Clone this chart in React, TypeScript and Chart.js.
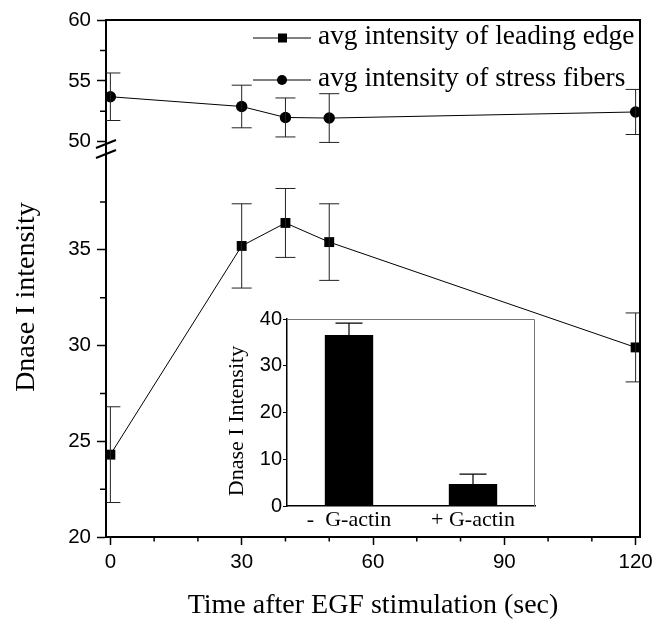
import React, { useEffect, useRef } from 'react';
import { Chart, registerables } from 'chart.js';

Chart.register(...registerables);

// ---------- data ----------
const timePoints = [0, 30, 40, 50, 120];
const leadingEdge = [24.3, 35.2, 36.4, 35.4, 29.9];
const leadingEdgeErr = [2.5, 2.2, 1.8, 2.0, 1.8];
const stressFibers = [53.7, 52.9, 52.0, 51.95, 52.45];
const stressFibersErr = [1.95, 1.75, 1.6, 2.0, 1.85];
const seriesLabels = ['avg intensity of leading edge', 'avg intensity of stress fibers'];

const xMajorTicks = [0, 30, 60, 90, 120];
const xMinorTicks = [10, 20, 40, 50, 70, 80, 100, 110];
const yLowMajorTicks = [20, 25, 30, 35];
const yLowMinorTicks = [22.5, 27.5, 32.5, 37.5];
const yHighMajorTicks = [50, 55, 60];
const yHighMinorTicks = [52.5, 57.5];

const insetCategories = ['-  G-actin', '+ G-actin'];
const insetValues = [36.6, 4.7];
const insetErr = [2.5, 2.1];
const insetTicks = [0, 10, 20, 30, 40];

const xTitle = 'Time after EGF stimulation (sec)';
const yTitle = 'Dnase I intensity';
const insetYTitle = 'Dnase I Intensity';

const SERIF = '"Liberation Serif", "Times New Roman", serif';
const SANS = '"Liberation Sans", Arial, sans-serif';

const setTicks = (vals: number[]) => (s: any) => {
  s.ticks = vals.map((v) => ({ value: v }));
};

const mainPlugin = {
  id: 'mainDecor',
  afterDatasetsDraw(chart: any) {
    const ctx = chart.ctx;
    const area = chart.chartArea;
    ctx.save();
    ctx.beginPath();
    ctx.rect(area.left, area.top, area.right - area.left, area.bottom - area.top);
    ctx.clip();
    ctx.strokeStyle = '#222';
    ctx.lineWidth = 1;
    chart.data.datasets.forEach((ds: any, i: number) => {
      const meta = chart.getDatasetMeta(i);
      const ys = chart.scales[ds.yAxisID];
      ds.data.forEach((p: any, j: number) => {
        const e = ds.errors[j];
        const px = meta.data[j].x;
        const t = ys.getPixelForValue(p.y + e);
        const b = ys.getPixelForValue(p.y - e);
        ctx.beginPath();
        ctx.moveTo(px, t);
        ctx.lineTo(px, b);
        ctx.moveTo(px - 10, t);
        ctx.lineTo(px + 10, t);
        ctx.moveTo(px - 10, b);
        ctx.lineTo(px + 10, b);
        ctx.stroke();
      });
    });
    ctx.restore();
  },
  afterDraw(chart: any) {
    const ctx = chart.ctx;
    const area = chart.chartArea;
    const xs = chart.scales.x;
    const yl = chart.scales.yLow;
    const yh = chart.scales.yHigh;
    ctx.save();
    // frame top/right
    ctx.strokeStyle = '#000';
    ctx.lineWidth = 2;
    ctx.beginPath();
    ctx.moveTo(area.left, area.top);
    ctx.lineTo(area.right, area.top);
    ctx.lineTo(area.right, area.bottom);
    ctx.stroke();
    // minor ticks
    ctx.lineWidth = 1.5;
    ctx.beginPath();
    xMinorTicks.forEach((v) => {
      const px = xs.getPixelForValue(v);
      ctx.moveTo(px, area.bottom);
      ctx.lineTo(px, area.bottom + 4.5);
    });
    yLowMinorTicks.forEach((v) => {
      const py = yl.getPixelForValue(v);
      ctx.moveTo(area.left, py);
      ctx.lineTo(area.left - 6, py);
    });
    yHighMinorTicks.forEach((v) => {
      const py = yh.getPixelForValue(v);
      ctx.moveTo(area.left, py);
      ctx.lineTo(area.left - 6, py);
    });
    ctx.stroke();
    // axis break marks
    const by = yh.bottom;
    ctx.lineWidth = 2.2;
    ctx.beginPath();
    ctx.moveTo(area.left - 10, by - 6);
    ctx.lineTo(area.left + 10, by - 14);
    ctx.moveTo(area.left - 10, by + 4);
    ctx.lineTo(area.left + 10, by - 4);
    ctx.stroke();
    // legend
    ctx.fillStyle = '#000';
    ctx.font = '27.4px ' + SERIF;
    ctx.textBaseline = 'alphabetic';
    ctx.textAlign = 'left';
    const rows = [38, 80];
    chart.data.datasets.forEach((ds: any, i: number) => {
      const ly = rows[i];
      ctx.lineWidth = 1;
      ctx.beginPath();
      ctx.moveTo(253, ly);
      ctx.lineTo(311, ly);
      ctx.stroke();
      ctx.beginPath();
      if (ds.pointStyle === 'rect') {
        ctx.rect(278, ly - 4.5, 9, 9);
      } else {
        ctx.arc(282, ly, 5, 0, Math.PI * 2);
      }
      ctx.fill();
      ctx.fillText(ds.label, 318, ly + 6);
    });
    // axis titles
    ctx.font = '28px ' + SERIF;
    ctx.textAlign = 'center';
    ctx.textBaseline = 'middle';
    ctx.fillText(xTitle, (area.left + area.right) / 2, 606);
    ctx.translate(27, 297);
    ctx.rotate(-Math.PI / 2);
    ctx.fillText(yTitle, 0, 0);
    ctx.restore();
  },
};

const insetPlugin = {
  id: 'insetDecor',
  beforeDraw(chart: any) {
    const ctx = chart.ctx;
    const a = chart.chartArea;
    ctx.save();
    ctx.fillStyle = '#fff';
    ctx.fillRect(a.left, a.top, a.right - a.left, a.bottom - a.top);
    ctx.restore();
  },
  afterDatasetsDraw(chart: any) {
    const ctx = chart.ctx;
    const ys = chart.scales.y;
    const ds = chart.data.datasets[0];
    const meta = chart.getDatasetMeta(0);
    ctx.save();
    ctx.strokeStyle = '#000';
    ctx.lineWidth = 1.2;
    ds.data.forEach((v: number, j: number) => {
      const px = meta.data[j].x;
      const t = ys.getPixelForValue(v + ds.errors[j]);
      const b = ys.getPixelForValue(v);
      ctx.beginPath();
      ctx.moveTo(px, b);
      ctx.lineTo(px, t);
      ctx.moveTo(px - 13.5, t);
      ctx.lineTo(px + 13.5, t);
      ctx.stroke();
    });
    ctx.restore();
  },
  afterDraw(chart: any) {
    const ctx = chart.ctx;
    const a = chart.chartArea;
    ctx.save();
    ctx.strokeStyle = '#777';
    ctx.lineWidth = 1;
    ctx.beginPath();
    ctx.moveTo(a.left, a.top + 0.5);
    ctx.lineTo(a.right - 0.5, a.top + 0.5);
    ctx.lineTo(a.right - 0.5, a.bottom);
    ctx.stroke();
    ctx.fillStyle = '#000';
    ctx.font = '22px ' + SERIF;
    ctx.textAlign = 'center';
    ctx.textBaseline = 'middle';
    ctx.translate(22, 116);
    ctx.rotate(-Math.PI / 2);
    ctx.fillText(insetYTitle, 0, 0);
    ctx.restore();
  },
};

export default function App() {
  const mainRef = useRef<HTMLCanvasElement>(null);
  const insetRef = useRef<HTMLCanvasElement>(null);

  useEffect(() => {
    const tickFont = { family: SANS, size: 20.5 };
    const yCommon = {
      type: 'linear' as const,
      position: 'left' as const,
      stack: 'y',
      afterFit: (s: any) => {
        s.width = 106;
      },
      ticks: { font: tickFont, color: '#000', padding: 6 },
      grid: { drawOnChartArea: false, tickLength: 9, tickColor: '#000', tickWidth: 1.5 },
      border: { color: '#000', width: 2 },
    };
    const main = new Chart(mainRef.current!, {
      type: 'line',
      data: {
        datasets: [
          {
            label: seriesLabels[0],
            data: timePoints.map((t, i) => ({ x: t, y: leadingEdge[i] })),
            yAxisID: 'yLow',
            borderColor: '#000',
            borderWidth: 1,
            pointStyle: 'rect',
            pointRadius: 7,
            pointBackgroundColor: '#000',
            pointBorderWidth: 0,
            clip: 0,
            errors: leadingEdgeErr,
          } as any,
          {
            label: seriesLabels[1],
            data: timePoints.map((t, i) => ({ x: t, y: stressFibers[i] })),
            yAxisID: 'yHigh',
            borderColor: '#000',
            borderWidth: 1,
            pointStyle: 'circle',
            pointRadius: 5.7,
            pointBackgroundColor: '#000',
            pointBorderWidth: 0,
            clip: 0,
            errors: stressFibersErr,
          } as any,
        ],
      },
      options: {
        animation: false,
        responsive: false,
        layout: { padding: { top: 20, right: 25, left: 0, bottom: 0 } },
        plugins: { legend: { display: false }, tooltip: { enabled: false } },
        scales: {
          x: {
            type: 'linear',
            min: -1,
            max: 121,
            afterBuildTicks: setTicks(xMajorTicks),
            afterFit: (s: any) => {
              s.height = 85;
            },
            ticks: { font: tickFont, color: '#000', padding: 5, maxRotation: 0, autoSkip: false },
            grid: { drawOnChartArea: false, tickLength: 8, tickColor: '#000', tickWidth: 1.5 },
            border: { color: '#000', width: 2 },
          },
          yHigh: {
            ...yCommon,
            min: 49,
            max: 60,
            weight: 1,
            stackWeight: 134,
            afterBuildTicks: setTicks(yHighMajorTicks),
          },
          yLow: {
            ...yCommon,
            min: 20,
            max: 40,
            weight: 0,
            stackWeight: 383,
            afterBuildTicks: setTicks(yLowMajorTicks),
          },
        } as any,
      },
      plugins: [mainPlugin],
    });

    const inset = new Chart(insetRef.current!, {
      type: 'bar',
      data: {
        labels: insetCategories,
        datasets: [
          {
            data: insetValues,
            backgroundColor: '#000',
            barPercentage: 0.39,
            categoryPercentage: 1,
            errors: insetErr,
          } as any,
        ],
      },
      options: {
        animation: false,
        responsive: false,
        layout: { padding: { top: 14, right: 10, left: 0, bottom: 0 } },
        plugins: { legend: { display: false }, tooltip: { enabled: false } },
        scales: {
          x: {
            grid: { display: false, drawTicks: false },
            border: { color: '#000', width: 1.5 },
            ticks: { font: { family: SERIF, size: 22 }, color: '#000', padding: 1 },
            afterFit: (s: any) => {
              s.height = 34;
            },
          },
          y: {
            min: 0,
            max: 40,
            afterBuildTicks: setTicks(insetTicks),
            afterFit: (s: any) => {
              s.width = 72;
            },
            ticks: { font: { family: SANS, size: 20 }, color: '#000', padding: 1 },
            grid: { drawOnChartArea: false, tickLength: 4, tickColor: '#000' },
            border: { color: '#000', width: 1.5 },
          },
        },
      },
      plugins: [insetPlugin],
    });

    return () => {
      main.destroy();
      inset.destroy();
    };
  }, []);

  return (
    <div style={{ position: 'fixed', left: 0, top: 0, width: 665, height: 622, background: '#fff' }}>
      <canvas ref={mainRef} width={665} height={622} style={{ position: 'absolute', left: 0, top: 0 }} />
      <canvas ref={insetRef} width={330} height={235} style={{ position: 'absolute', left: 215, top: 305 }} />
    </div>
  );
}
